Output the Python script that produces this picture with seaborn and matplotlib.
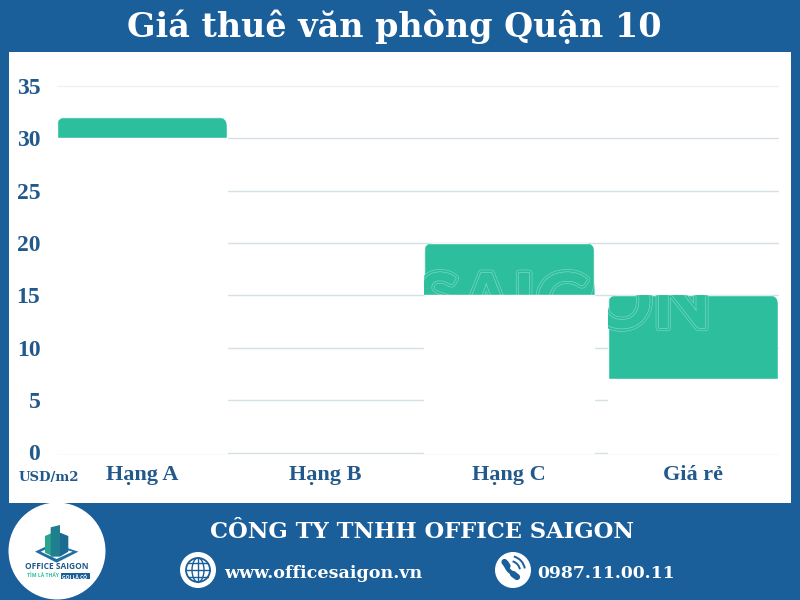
import matplotlib
matplotlib.use("Agg")
import matplotlib.pyplot as plt
import matplotlib.patheffects as pe
from matplotlib.patches import Circle, Ellipse, FancyBboxPatch, Polygon, Rectangle, Arc
from matplotlib.transforms import IdentityTransform
import pandas as pd
import seaborn as sns

categories = ["Hạng A", "Hạng B", "Hạng C", "Giá rẻ"]
price_low = [30, 0, 15, 7]
price_high = [32, 0, 20, 15]
y_ticks = [0, 5, 10, 15, 20, 25, 30, 35]

BLUE = "#1a5e9a"
TEAL = "#2dbf9d"
TEXT_BLUE = "#22598c"
GRID = "#d3e0e6"

sns.set_theme(style="white")
df = pd.DataFrame({"cat": categories, "low": price_low, "high": price_high})

fig = plt.figure(figsize=(8, 6), dpi=100, facecolor=BLUE)

# page furniture sits in a pixel-coordinate axes behind the chart
page = fig.add_axes([0, 0, 1, 1], zorder=0)
page.set_xlim(0, 800)
page.set_ylim(600, 0)
page.axis("off")
page.add_patch(Rectangle((9, 52), 782, 451, color="white", lw=0))

ax = fig.add_axes([57 / 800, 1 - 452.5 / 600, 721 / 800, 366.5 / 600], zorder=1)
ax.patch.set_alpha(0)

sns.barplot(data=df, x="cat", y="high", color=TEAL, saturation=1, width=0.925, ax=ax)
n_top = len(ax.patches)
sns.barplot(data=df, x="cat", y="low", color="white", saturation=1, width=0.925, ax=ax)
top_bars = ax.patches[:n_top]
base_bars = ax.patches[n_top:]

ax.set_xlim(-0.4627, 3.4627)
ax.set_ylim(0, 35)
ax.set_yticks(y_ticks)
ax.set_xlabel("")
ax.set_ylabel("")
sns.despine(ax=ax, left=True, bottom=True)
ax.yaxis.grid(True, color=GRID, lw=1, zorder=0)
ax.set_axisbelow(True)
for line in ax.get_ygridlines():
    line.set_clip_on(False)
ax.get_ygridlines()[-1].set_color("#eef2f4")
ax.tick_params(axis="both", length=0)
ax.tick_params(axis="y", pad=12)
ax.tick_params(axis="x", pad=9)
for lab in ax.get_yticklabels():
    lab.set(family="Liberation Serif", weight="bold", size=17, color=TEXT_BLUE)
for lab in ax.get_xticklabels():
    lab.set(family="Liberation Serif", weight="bold", size=16, color=TEXT_BLUE)

# rounded top corners + watermark, only inside the teal bars
for bar, base in zip(top_bars, base_bars):
    base.set_zorder(3)
    bar.set_zorder(2)
    if bar.get_height() <= 0:
        continue
    # the white base also has to hide the zero gridline, which sits on the axes edge
    base.set_clip_on(False)
    base.set(edgecolor="white", linewidth=1)
    (x0, y0), (x1, y1) = ax.transData.transform(bar.get_bbox().get_points())
    clip = FancyBboxPatch((x0, y0 - 30), x1 - x0, y1 - y0 + 30,
                          boxstyle="round,pad=0,rounding_size=9",
                          transform=IdentityTransform())
    bar.set_clip_path(clip)
    wm = ax.text(564.5 / 800, 1 - 306 / 600, "SAIGON", family="Lato", weight="bold",
                 size=55, color=TEAL, ha="center", va="center", transform=fig.transFigure,
                 zorder=2.5, path_effects=[pe.Stroke(linewidth=4.4, foreground="#7fdcc6"),
                                           pe.Stroke(linewidth=3.6, foreground=TEAL),
                                           pe.Stroke(linewidth=0.9, foreground="#7fdcc6"),
                                           pe.Normal()])
    wm.set_clip_path(clip)
    wm.set_clip_on(True)

page.text(394, 27, "Giá thuê văn phòng Quận 10", family="DejaVu Serif", weight="bold",
          size=24, color="white", ha="center", va="center")
page.text(49, 477, "USD/m2", family="DejaVu Serif", weight="bold", size=9.5,
          color=TEXT_BLUE, ha="center", va="center")
page.text(422, 532, "CÔNG TY TNHH OFFICE SAIGON", family="DejaVu Serif", weight="bold",
          size=16.3, color="white", ha="center", va="center")
page.text(224, 574, "www.officesaigon.vn", family="DejaVu Serif", weight="bold",
          size=12.6, color="white", ha="left", va="center")
page.text(537, 574, "0987.11.00.11", family="DejaVu Serif", weight="bold",
          size=12.4, color="white", ha="left", va="center")

# logo
page.add_patch(Circle((57, 551), 48.5, color="white", lw=0))
def zp(pts):
    return [(10 + a / 3, 510 + b / 3) for a, b in pts]
page.add_patch(Polygon(zp([(75, 125), (128, 100), (205, 125), (140, 158)]), closed=True,
                       fc="#1f6f9f", lw=0))
page.add_patch(Polygon(zp([(92, 125), (128, 108), (188, 125), (140, 147)]), closed=True,
                       fc="white", lw=0))
page.add_patch(Polygon(zp([(105, 78), (128, 68), (130, 140), (105, 128)]), closed=True,
                       fc="#2aa58c", lw=0))
page.add_patch(Polygon(zp([(122, 52), (150, 45), (150, 140), (122, 140)]), closed=True,
                       fc="#1f7f8f", lw=0))
page.add_patch(Polygon(zp([(150, 68), (175, 78), (175, 125), (150, 140)]), closed=True,
                       fc="#1a6a94", lw=0))
page.text(57, 566.5, "OFFICE SAIGON", family="Open Sans", weight="bold", size=6,
          color="#22598c", ha="center", va="center")
page.text(43, 575.5, "TÌM LÀ THẤY", family="Open Sans", weight="bold", size=3.6,
          color="#2dbf9d", ha="center", va="center")
page.add_patch(Rectangle((60.5, 572.5), 29, 6.5, color="#1a5e9a", lw=0))
page.text(75, 575.8, "GỌI LÀ CÓ", family="Open Sans", weight="bold", size=3.6,
          color="white", ha="center", va="center")

# globe icon
page.add_patch(Circle((198, 570), 18, color="white", lw=0))
page.add_patch(Circle((198, 570), 12, fc="none", ec=BLUE, lw=1.3))
page.add_patch(Ellipse((198, 570), 12, 24, fc="none", ec=BLUE, lw=1))
page.plot([198, 198], [558, 582], color=BLUE, lw=1)
page.plot([186, 210], [570, 570], color=BLUE, lw=1)
page.plot([188, 208], [563, 563], color=BLUE, lw=1)
page.plot([188, 208], [577, 577], color=BLUE, lw=1)

# phone icon
page.add_patch(Circle((513, 570), 18, color="white", lw=0))
page.add_patch(Arc((517, 563), 22, 22, theta1=100, theta2=190, ec=BLUE, lw=3))
page.plot([504.5, 507.5], [562, 566], color=BLUE, lw=4.5, solid_capstyle="round")
page.plot([513, 517], [574, 577], color=BLUE, lw=4.5, solid_capstyle="round")
page.add_patch(Arc((510, 571), 20, 20, theta1=-75, theta2=-10, ec=BLUE, lw=1.4))
page.add_patch(Arc((510, 571), 30, 30, theta1=-75, theta2=-10, ec=BLUE, lw=1.4))

page.set_xlim(0, 800)
page.set_ylim(600, 0)
fig.savefig("out.png", dpi=100, facecolor=BLUE)
